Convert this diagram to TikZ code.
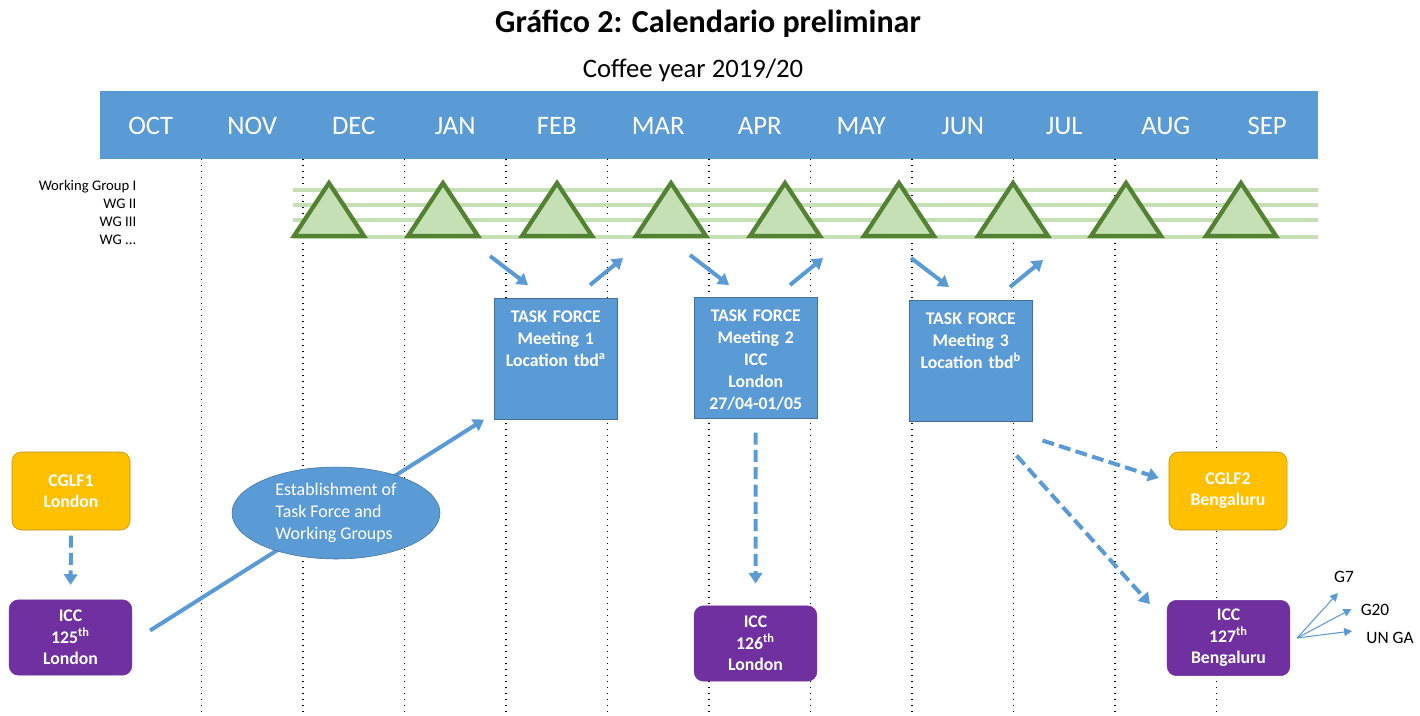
\documentclass[tikz,border=0pt]{standalone}
\usepackage{fontspec}
\setmainfont{Carlito}
\usetikzlibrary{arrows.meta,shapes.geometric,calc}

\definecolor{hdrblue}{HTML}{5B9BD5}
\definecolor{boxedge}{HTML}{41719C}
\definecolor{cglforange}{HTML}{FFC000}
\definecolor{cglfedge}{HTML}{BF9000}
\definecolor{iccpurple}{HTML}{7030A0}
\definecolor{trifill}{HTML}{C5E0B4}
\definecolor{triedge}{HTML}{548235}

\begin{document}
\begin{tikzpicture}[x=0.75pt,y=-0.75pt]
	\tikzstyle{month}=[text=white,font=\fontsize{20}{24}\selectfont]
	\tikzstyle{wglabel}=[anchor=east,font=\fontsize{11}{13}\selectfont]
	\tikzstyle{gridline}=[line width=1.1pt,dash pattern=on 1.1pt off 3.4pt]
	\tikzstyle{wgline}=[trifill,line width=2.5pt]
	\tikzstyle{wgtri}=[fill=trifill,draw=triedge,line width=3.2pt]
	\tikzstyle{flow}=[hdrblue,line width=3pt,-{Triangle[length=8pt,width=10pt]}]
	\tikzstyle{flowdash}=[flow,dash pattern=on 9pt off 4pt]
	\tikzstyle{tfbox}=[draw=boxedge,fill=hdrblue,text=white,anchor=north west,align=center,font=\bfseries\fontsize{13.3}{16.5}\selectfont,text width=86.25pt,inner xsep=3pt,inner ysep=4pt,text height=14pt,text depth=68.75pt]
	\tikzstyle{cglf}=[draw=cglfedge,fill=cglforange,text=white,rounded corners=7pt,align=center,font=\bfseries\fontsize{13.3}{16}\selectfont,minimum width=88.5pt,minimum height=58.5pt]
	\tikzstyle{icc}=[draw=iccpurple,fill=iccpurple,text=white,rounded corners=7pt,align=center,font=\bfseries\fontsize{13.3}{16}\selectfont,minimum width=92pt,minimum height=56.5pt]
	\tikzstyle{outlet}=[hdrblue,line width=0.8pt,-{Triangle[length=6pt,width=6pt]}]
	\tikzstyle{outname}=[inner sep=0pt,font=\fontsize{13}{15}\selectfont]
	\useasboundingbox (0,0) rectangle (1420,715);
	% titles
	\node[font=\bfseries\fontsize{24}{28}\selectfont] (title) at (708,24) {Gráfico 2: Calendario preliminar};
	\node[font=\fontsize{20}{24}\selectfont] (year) at (693,70) {Coffee year 2019/20};
	% month grid
	\draw[gridline] (201.5,159) -- (201.5,715);
	\draw[gridline] (303,159) -- (303,715);
	\draw[gridline] (404.5,159) -- (404.5,715);
	\draw[gridline] (506,159) -- (506,715);
	\draw[gridline] (607.5,159) -- (607.5,715);
	\draw[gridline] (709,159) -- (709,715);
	\draw[gridline] (810.5,159) -- (810.5,715);
	\draw[gridline] (912,159) -- (912,715);
	\draw[gridline] (1013.5,159) -- (1013.5,715);
	\draw[gridline] (1115,159) -- (1115,715);
	\draw[gridline] (1216.5,159) -- (1216.5,715);
	\fill[hdrblue] (100,91) rectangle (1318,159);
	\node[month] (oct) at (150.75,126) {OCT};
	\node[month] (nov) at (252.25,126) {NOV};
	\node[month] (dec) at (353.75,126) {DEC};
	\node[month] (jan) at (455.25,126) {JAN};
	\node[month] (feb) at (556.75,126) {FEB};
	\node[month] (mar) at (658.25,126) {MAR};
	\node[month] (apr) at (759.75,126) {APR};
	\node[month] (may) at (861.25,126) {MAY};
	\node[month] (jun) at (962.75,126) {JUN};
	\node[month] (jul) at (1064.25,126) {JUL};
	\node[month] (aug) at (1165.75,126) {AUG};
	\node[month] (sep) at (1267.25,126) {SEP};
	% working groups
	\node[wglabel] (wg1) at (141,187) {Working Group I};
	\node[wglabel] (wg2) at (141,204) {WG II};
	\node[wglabel] (wg3) at (141,222) {WG III};
	\node[wglabel] (wg4) at (141,240) {WG ...};
	\draw[wgline] (293,190) -- (1318,190);
	\draw[wgline] (293,205) -- (1318,205);
	\draw[wgline] (293,220) -- (1318,220);
	\draw[wgline] (293,237) -- (1318,237);
	\filldraw[wgtri] (294,236) -- (329,183) -- (364,236) -- cycle;
	\filldraw[wgtri] (408,236) -- (443,183) -- (478,236) -- cycle;
	\filldraw[wgtri] (522,236) -- (557,183) -- (592,236) -- cycle;
	\filldraw[wgtri] (636,236) -- (671,183) -- (706,236) -- cycle;
	\filldraw[wgtri] (750,236) -- (785,183) -- (820,236) -- cycle;
	\filldraw[wgtri] (864,236) -- (899,183) -- (934,236) -- cycle;
	\filldraw[wgtri] (978,236) -- (1013,183) -- (1048,236) -- cycle;
	\filldraw[wgtri] (1091,236) -- (1126,183) -- (1161,236) -- cycle;
	\filldraw[wgtri] (1206,236) -- (1241,183) -- (1276,236) -- cycle;
	% task force meetings
	\node[tfbox] (tf1) at (494,298) {TASK FORCE\\Meeting 1\\Location tbd\textsuperscript{a}};
	\node[tfbox] (tf2) at (694,297) {TASK FORCE\\Meeting 2\\ICC\\London\\27/04-01/05};
	\node[tfbox] (tf3) at (909,300) {TASK FORCE\\Meeting 3\\Location tbd\textsuperscript{b}};
	\coordinate (in1) at (490,256);
	\coordinate (in1e) at (528,285);
	\coordinate (out1) at (590,285);
	\coordinate (out1e) at (623,258);
	\coordinate (in2) at (690,255);
	\coordinate (in2e) at (729,285);
	\coordinate (out2) at (790,285);
	\coordinate (out2e) at (823,258);
	\coordinate (in3) at (911,258);
	\coordinate (in3e) at (949,287);
	\coordinate (out3) at (1010,287);
	\coordinate (out3e) at (1043,260);
	\draw[flow] (in1) -- (in1e);
	\draw[flow] (out1) -- (out1e);
	\draw[flow] (in2) -- (in2e);
	\draw[flow] (out2) -- (out2e);
	\draw[flow] (in3) -- (in3e);
	\draw[flow] (out3) -- (out3e);
	% council sessions
	\node[cglf] (cglf1) at (71,491) {CGLF1\\London};
	\node[icc] (icc125) at (70.5,637.5) {ICC\\125\textsuperscript{th}\\London};
	\node[icc] (icc126) at (755.5,643.5) {ICC\\126\textsuperscript{th}\\London};
	\node[cglf] (cglf2) at (1228,491) {CGLF2\\Bengaluru};
	\node[icc] (icc127) at (1228.5,638) {ICC\\127\textsuperscript{th}\\Bengaluru};
	\draw[flow] ($(icc125.east)+(18,-7)$) -- ($(tf1.south west)+(-10,0)$);
	\node[ellipse,draw=boxedge,fill=hdrblue,text=white,align=left,inner sep=0pt,minimum width=156pt,minimum height=69pt,font=\fontsize{13.4}{16.5}\selectfont] (setup) at (336,513) {Establishment of\\Task Force and\\Working Groups};
	\draw[flowdash,shorten <=4pt,shorten >=11pt] (cglf1) -- (icc125);
	\draw[flowdash,shorten <=10.5pt,shorten >=16.5pt] (tf2) -- (icc126);
	\draw[flowdash] ($(tf3.south east)+(10,19)$) -- ($(cglf2.west)+(-10,-13)$);
	\draw[flowdash] ($(tf3.south east)+(-16,34)$) -- ($(icc127.north west)+(-17,4)$);
	% outlets
	\node[outname] (g7) at (1344,577) {G7};
	\node[outname] (g20) at (1375,610) {G20};
	\node[outname] (unga) at (1390,638) {UN GA};
	\coordinate (fan) at ($(icc127.east)+(7,0)$);
	\draw[outlet] (fan) -- ($(g7.south)+(-6,10)$);
	\draw[outlet] (fan) -- ($(g20.west)+(-9,-1)$);
	\draw[outlet] (fan) -- ($(unga.west)+(-14,-7)$);
\end{tikzpicture}
\end{document}
